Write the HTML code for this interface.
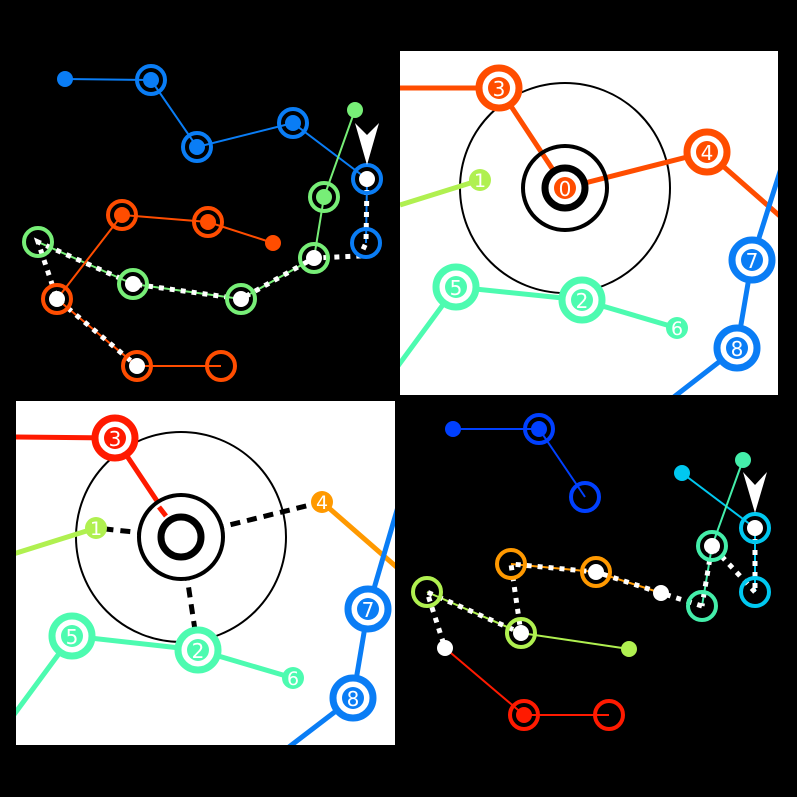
<!DOCTYPE html>
<html><head><meta charset="utf-8"><style>html,body{margin:0;padding:0;background:#000}svg{display:block}text{font-family:"DejaVu Sans","Liberation Sans",sans-serif;fill:#fff;text-anchor:middle;dominant-baseline:central}</style></head><body>
<svg width="797" height="797" viewBox="0 0 797 797" xmlns="http://www.w3.org/2000/svg">
<defs>
<clipPath id="c1"><rect x="400" y="51" width="378" height="344"/></clipPath>
<clipPath id="c2"><rect x="16" y="401" width="379" height="344"/></clipPath>
</defs>
<rect width="797" height="797" fill="#000"/>

<!-- TOP LEFT -->
<g fill="none" stroke-width="2">
<polyline points="65,79 151,80 197,147 293,123 367,179" stroke="#0a7df5"/>
<line x1="367" y1="179" x2="366" y2="243" stroke="#0a7df5"/>
<polyline points="355,110 324,197 314,258" stroke="#77ee77"/>
<polyline points="38,242 133,284 241,299 314,258" stroke="#77ee77"/>
<polyline points="273,243 208,222 122,215 57,299 137,366 221,366" stroke="#ff4d00"/>
</g>
<g fill="none" stroke="#fff" stroke-width="5" stroke-dasharray="5,6">
<polyline points="367,179 366,243 360,256 314,258 241,299 133,284 38,242 57,299 137,366"/>
</g>
<g stroke-width="4" fill="none">
<circle cx="151" cy="80" r="14" stroke="#0a7df5"/><circle cx="197" cy="147" r="14" stroke="#0a7df5"/>
<circle cx="293" cy="123" r="14" stroke="#0a7df5"/><circle cx="367" cy="179" r="14" stroke="#0a7df5"/>
<circle cx="366" cy="243" r="14" stroke="#0a7df5"/>
<circle cx="324" cy="197" r="14" stroke="#77ee77"/><circle cx="314" cy="258" r="14" stroke="#77ee77"/>
<circle cx="38" cy="242" r="14" stroke="#77ee77"/><circle cx="133" cy="284" r="14" stroke="#77ee77"/>
<circle cx="241" cy="299" r="14" stroke="#77ee77"/>
<circle cx="122" cy="215" r="14" stroke="#ff4d00"/><circle cx="208" cy="222" r="14" stroke="#ff4d00"/>
<circle cx="57" cy="299" r="14" stroke="#ff4d00"/><circle cx="137" cy="366" r="14" stroke="#ff4d00"/>
<circle cx="221" cy="366" r="14" stroke="#ff4d00"/>
</g>
<g>
<circle cx="65" cy="79" r="8" fill="#0a7df5"/><circle cx="151" cy="80" r="8" fill="#0a7df5"/>
<circle cx="197" cy="147" r="8" fill="#0a7df5"/><circle cx="293" cy="123" r="8" fill="#0a7df5"/>
<circle cx="367" cy="179" r="8" fill="#fff"/>
<circle cx="355" cy="110" r="8" fill="#77ee77"/><circle cx="324" cy="197" r="8" fill="#77ee77"/>
<circle cx="314" cy="258" r="8" fill="#fff"/><circle cx="133" cy="284" r="8" fill="#fff"/>
<circle cx="241" cy="299" r="8" fill="#fff"/>
<circle cx="122" cy="215" r="8" fill="#ff4d00"/><circle cx="208" cy="222" r="8" fill="#ff4d00"/>
<circle cx="273" cy="243" r="8" fill="#ff4d00"/>
<circle cx="57" cy="299" r="8" fill="#fff"/><circle cx="137" cy="366" r="8" fill="#fff"/>
<polygon points="355,123 367,135 379,123 367,165" fill="#fff"/>
</g>

<!-- TOP RIGHT -->
<rect x="400" y="51" width="378" height="344" fill="#fff"/>
<g clip-path="url(#c1)">
<circle cx="565" cy="188" r="105" fill="none" stroke="#000" stroke-width="2"/>
<g fill="none" stroke-width="5">
<polyline points="400,88 499,88 565,188 707,152 790,225" stroke="#ff4d00"/>
<line x1="400" y1="205" x2="480" y2="180" stroke="#b0f050"/>
<polyline points="395,370 456,287 582,300 677,328" stroke="#4dfbb0"/>
<polyline points="790,140 752,260 737,348 670,400" stroke="#0a7df5"/>
</g>
<circle cx="565" cy="188" r="42" fill="none" stroke="#000" stroke-width="4"/>
<circle cx="565" cy="188" r="20" fill="#fff" stroke="#000" stroke-width="7"/>
<circle cx="565" cy="188" r="11" fill="#ff4d00"/><text x="565" y="189" font-size="20">0</text>
<g stroke-width="7" fill="#fff">
<circle cx="499" cy="88" r="20" stroke="#ff4d00"/><circle cx="707" cy="152" r="20" stroke="#ff4d00"/>
<circle cx="456" cy="287" r="20" stroke="#4dfbb0"/><circle cx="582" cy="300" r="20" stroke="#4dfbb0"/>
<circle cx="752" cy="260" r="20" stroke="#0a7df5"/><circle cx="737" cy="348" r="20" stroke="#0a7df5"/>
</g>
<circle cx="499" cy="88" r="11" fill="#ff4d00"/><text x="499" y="89" font-size="20">3</text>
<circle cx="707" cy="152" r="11" fill="#ff4d00"/><text x="707" y="153" font-size="20">4</text>
<circle cx="456" cy="287" r="11" fill="#4dfbb0"/><text x="456" y="288" font-size="20">5</text>
<circle cx="582" cy="300" r="11" fill="#4dfbb0"/><text x="582" y="301" font-size="20">2</text>
<circle cx="752" cy="260" r="11" fill="#0a7df5"/><text x="752" y="261" font-size="20">7</text>
<circle cx="737" cy="348" r="11" fill="#0a7df5"/><text x="737" y="349" font-size="20">8</text>
<circle cx="480" cy="180" r="11" fill="#b0f050"/><text x="480" y="181" font-size="19">1</text>
<circle cx="677" cy="328" r="11" fill="#4dfbb0"/><text x="677" y="329" font-size="19">6</text>
</g>

<!-- BOTTOM LEFT -->
<rect x="16" y="401" width="379" height="344" fill="#fff"/>
<g clip-path="url(#c2)">
<circle cx="181" cy="537" r="105" fill="none" stroke="#000" stroke-width="2"/>
<g fill="none" stroke-width="5">
<polyline points="10,437 115,438 181,537" stroke="#ff1a00"/>
<line x1="10" y1="555" x2="96" y2="528" stroke="#b0f050"/>
<line x1="322" y1="502" x2="400" y2="570" stroke="#ff9900"/>
<polyline points="10,720 72,636 198,650 293,678" stroke="#4dfbb0"/>
<polyline points="400,500 368,609 353,698 285,750" stroke="#0a7df5"/>
</g>
<g stroke="#000" stroke-width="5" stroke-dasharray="10,7" fill="none">
<line x1="181" y1="537" x2="96" y2="528"/>
<line x1="181" y1="537" x2="322" y2="502"/>
<line x1="181" y1="537" x2="198" y2="650"/>
</g>
<circle cx="181" cy="537" r="42" fill="#fff" stroke="#000" stroke-width="4"/>
<circle cx="181" cy="537" r="20" fill="#fff" stroke="#000" stroke-width="7"/>
<line x1="159" y1="507" x2="166" y2="516" stroke="#ff1a00" stroke-width="5"/>
<g stroke-width="7" fill="#fff">
<circle cx="115" cy="438" r="20" stroke="#ff1a00"/>
<circle cx="72" cy="636" r="20" stroke="#4dfbb0"/><circle cx="198" cy="650" r="20" stroke="#4dfbb0"/>
<circle cx="368" cy="609" r="20" stroke="#0a7df5"/><circle cx="353" cy="698" r="20" stroke="#0a7df5"/>
</g>
<circle cx="115" cy="438" r="11" fill="#ff1a00"/><text x="115" y="439" font-size="20">3</text>
<circle cx="72" cy="636" r="11" fill="#4dfbb0"/><text x="72" y="637" font-size="20">5</text>
<circle cx="198" cy="650" r="11" fill="#4dfbb0"/><text x="198" y="651" font-size="20">2</text>
<circle cx="368" cy="609" r="11" fill="#0a7df5"/><text x="368" y="610" font-size="20">7</text>
<circle cx="353" cy="698" r="11" fill="#0a7df5"/><text x="353" y="699" font-size="20">8</text>
<circle cx="96" cy="528" r="11" fill="#b0f050"/><text x="96" y="529" font-size="19">1</text>
<circle cx="322" cy="502" r="11" fill="#ff9900"/><text x="322" y="503" font-size="19">4</text>
<circle cx="293" cy="678" r="11" fill="#4dfbb0"/><text x="293" y="679" font-size="19">6</text>
</g>

<!-- BOTTOM RIGHT -->
<g fill="none" stroke-width="2">
<polyline points="453,429 539,429 585,497" stroke="#0040ff"/>
<line x1="682" y1="473" x2="755" y2="528" stroke="#00c8f0"/>
<line x1="755" y1="528" x2="755" y2="592" stroke="#00c8f0"/>
<polyline points="743,460 712,546 702,606" stroke="#44eeaa"/>
<polyline points="511,564 596,572 661,593" stroke="#ff9900"/>
<polyline points="427,592 521,633 629,649" stroke="#b0f050"/>
<polyline points="445,648 524,715 609,715" stroke="#ff1a00"/>
</g>
<g fill="none" stroke="#fff" stroke-width="5" stroke-dasharray="5,6">
<line x1="755" y1="528" x2="755" y2="592"/>
<polyline points="755,592 712,546 702,606"/>
<polyline points="702,606 661,593 596,572 511,564 521,633 427,592 445,648"/>
</g>
<g stroke-width="4" fill="none">
<circle cx="539" cy="429" r="14" stroke="#0040ff"/><circle cx="585" cy="497" r="14" stroke="#0040ff"/>
<circle cx="755" cy="528" r="14" stroke="#00c8f0"/><circle cx="755" cy="592" r="14" stroke="#00c8f0"/>
<circle cx="712" cy="546" r="14" stroke="#44eeaa"/><circle cx="702" cy="606" r="14" stroke="#44eeaa"/>
<circle cx="511" cy="564" r="14" stroke="#ff9900"/><circle cx="596" cy="572" r="14" stroke="#ff9900"/>
<circle cx="427" cy="592" r="14" stroke="#b0f050"/><circle cx="521" cy="633" r="14" stroke="#b0f050"/>
<circle cx="524" cy="715" r="14" stroke="#ff1a00"/><circle cx="609" cy="715" r="14" stroke="#ff1a00"/>
</g>
<circle cx="453" cy="429" r="8" fill="#0040ff"/><circle cx="539" cy="429" r="8" fill="#0040ff"/>
<circle cx="682" cy="473" r="8" fill="#00c8f0"/><circle cx="743" cy="460" r="8" fill="#44eeaa"/>
<circle cx="755" cy="528" r="8" fill="#fff"/><circle cx="712" cy="546" r="8" fill="#fff"/>
<circle cx="596" cy="572" r="8" fill="#fff"/><circle cx="661" cy="593" r="8" fill="#fff"/>
<circle cx="521" cy="633" r="8" fill="#fff"/><circle cx="445" cy="648" r="8" fill="#fff"/>
<circle cx="629" cy="649" r="8" fill="#b0f050"/><circle cx="524" cy="715" r="8" fill="#ff1a00"/>
<polygon points="743,472 755,485 767,472 755,513" fill="#fff"/>
</svg>
</body></html>
